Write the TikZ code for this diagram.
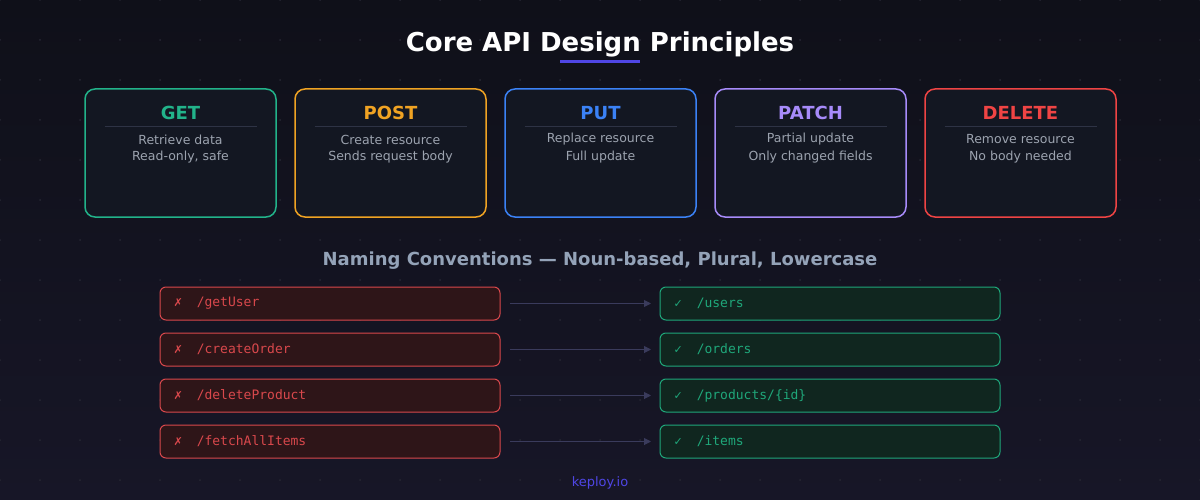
\documentclass[tikz,border=0pt]{standalone}
\usepackage{fontspec}
\setmainfont{DejaVu Sans}
\setmonofont{DejaVu Sans Mono}
\usetikzlibrary{arrows.meta}
\definecolor{bgtop}{HTML}{0F1019}
\definecolor{bgbot}{HTML}{171627}
\definecolor{cardbg}{HTML}{131722}
\definecolor{sub}{HTML}{9CA3AF}
\definecolor{subt}{HTML}{94A3B8}
\definecolor{sep}{HTML}{2E3345}
\definecolor{cget}{HTML}{22B38A}
\definecolor{cpost}{HTML}{F0A323}
\definecolor{cput}{HTML}{3B82F6}
\definecolor{cpatch}{HTML}{A78BFA}
\definecolor{cdel}{HTML}{EF4444}
\definecolor{badbg}{HTML}{2E1518}
\definecolor{badln}{HTML}{D9484C}
\definecolor{goodbg}{HTML}{10261F}
\definecolor{goodln}{HTML}{1FA77A}
\definecolor{arr}{HTML}{3A3B5C}
\definecolor{accent}{HTML}{4F46E5}
\definecolor{dotc}{HTML}{262733}
\begin{document}
\begin{tikzpicture}[x=1pt,y=-1pt,
  card/.style={draw=#1,line width=1.5pt,rounded corners=10pt,fill=cardbg},
  ctitle/.style={font=\bfseries\fontsize{18}{20}\selectfont,text=#1},
  cline/.style={font=\fontsize{12.5}{14}\selectfont,text=sub},
  bad/.style={draw=badln,line width=1pt,rounded corners=6pt,fill=badbg},
  good/.style={draw=goodln,line width=1pt,rounded corners=6pt,fill=goodbg},
  mono/.style={font=\ttfamily\fontsize{13}{15}\selectfont,anchor=west},
  conn/.style={draw=arr,line width=1pt,-{Triangle[length=7pt,width=7pt]}}]
\shade[top color=bgtop,bottom color=bgbot] (0,0) rectangle (1200,500);
\useasboundingbox (0,0) rectangle (1200,500);
\foreach \x in {0,40,...,1200}{\foreach \y in {0,40,...,480}{\fill[dotc] (\x,\y) circle (1pt);}}
\node (title) at (600,44) {\textcolor{white}{\bfseries\fontsize{26}{30}\selectfont Core API Design Principles}};
\draw[accent,line width=3pt] (560,62) -- (640,62);
\foreach \i/\n/\c/\a/\b in {0/GET/cget/Retrieve data/{Read-only, safe},1/POST/cpost/Create resource/Sends request body,2/PUT/cput/Replace resource/Full update,3/PATCH/cpatch/Partial update/Only changed fields,4/DELETE/cdel/Remove resource/No body needed}{
  \pgfmathsetmacro{\xl}{85+210*\i}
  \pgfmathsetmacro{\xc}{\xl+95.5}
  \draw[card=\c] (\xl,89) rectangle ++(191,128);
  \node[ctitle=\c] (t\i) at (\xc,113) {\n};
  \draw[sep,line width=1pt] (\xc-76,126.5) -- (\xc+76,126.5);
  \node[cline] (a\i) at (\xc,139.5) {\a};
  \node[cline] (b\i) at (\xc,157.5) {\b};
}
\node[font=\bfseries\fontsize{18}{20}\selectfont,text=subt] (nc) at (600,261) {Naming Conventions — Noun-based, Plural, Lowercase};
\foreach \i/\bd/\gd in {0/{/getUser}/{/users},1/{/createOrder}/{/orders},2/{/deleteProduct}/{/products/\{id\}},3/{/fetchAllItems}/{/items}}{
  \pgfmathsetmacro{\yt}{287+46*\i}
  \pgfmathsetmacro{\ym}{\yt+16.5}
  \draw[bad] (160,\yt) rectangle (500,\yt+33);
  \draw[good] (660,\yt) rectangle (1000,\yt+33);
  \coordinate (l\i) at (510,\ym);
  \coordinate (r\i) at (651,\ym);
  \node[mono,text=badln] (bx\i) at (170,\ym) {\fontspec{DejaVu Sans}\fontsize{11}{13}\selectfont ✗\hspace{14pt}\ttfamily\fontsize{13}{15}\selectfont\bd};
  \node[mono,text=goodln] (gx\i) at (670,\ym) {\fontspec{DejaVu Sans}\fontsize{11}{13}\selectfont ✓\hspace{14pt}\ttfamily\fontsize{13}{15}\selectfont\gd};
  \draw[conn] (l\i) -- (r\i);
}
\node[text=accent,font=\fontsize{13}{15}\selectfont] (k) at (600,483) {keploy.io};
\end{tikzpicture}
\end{document}
